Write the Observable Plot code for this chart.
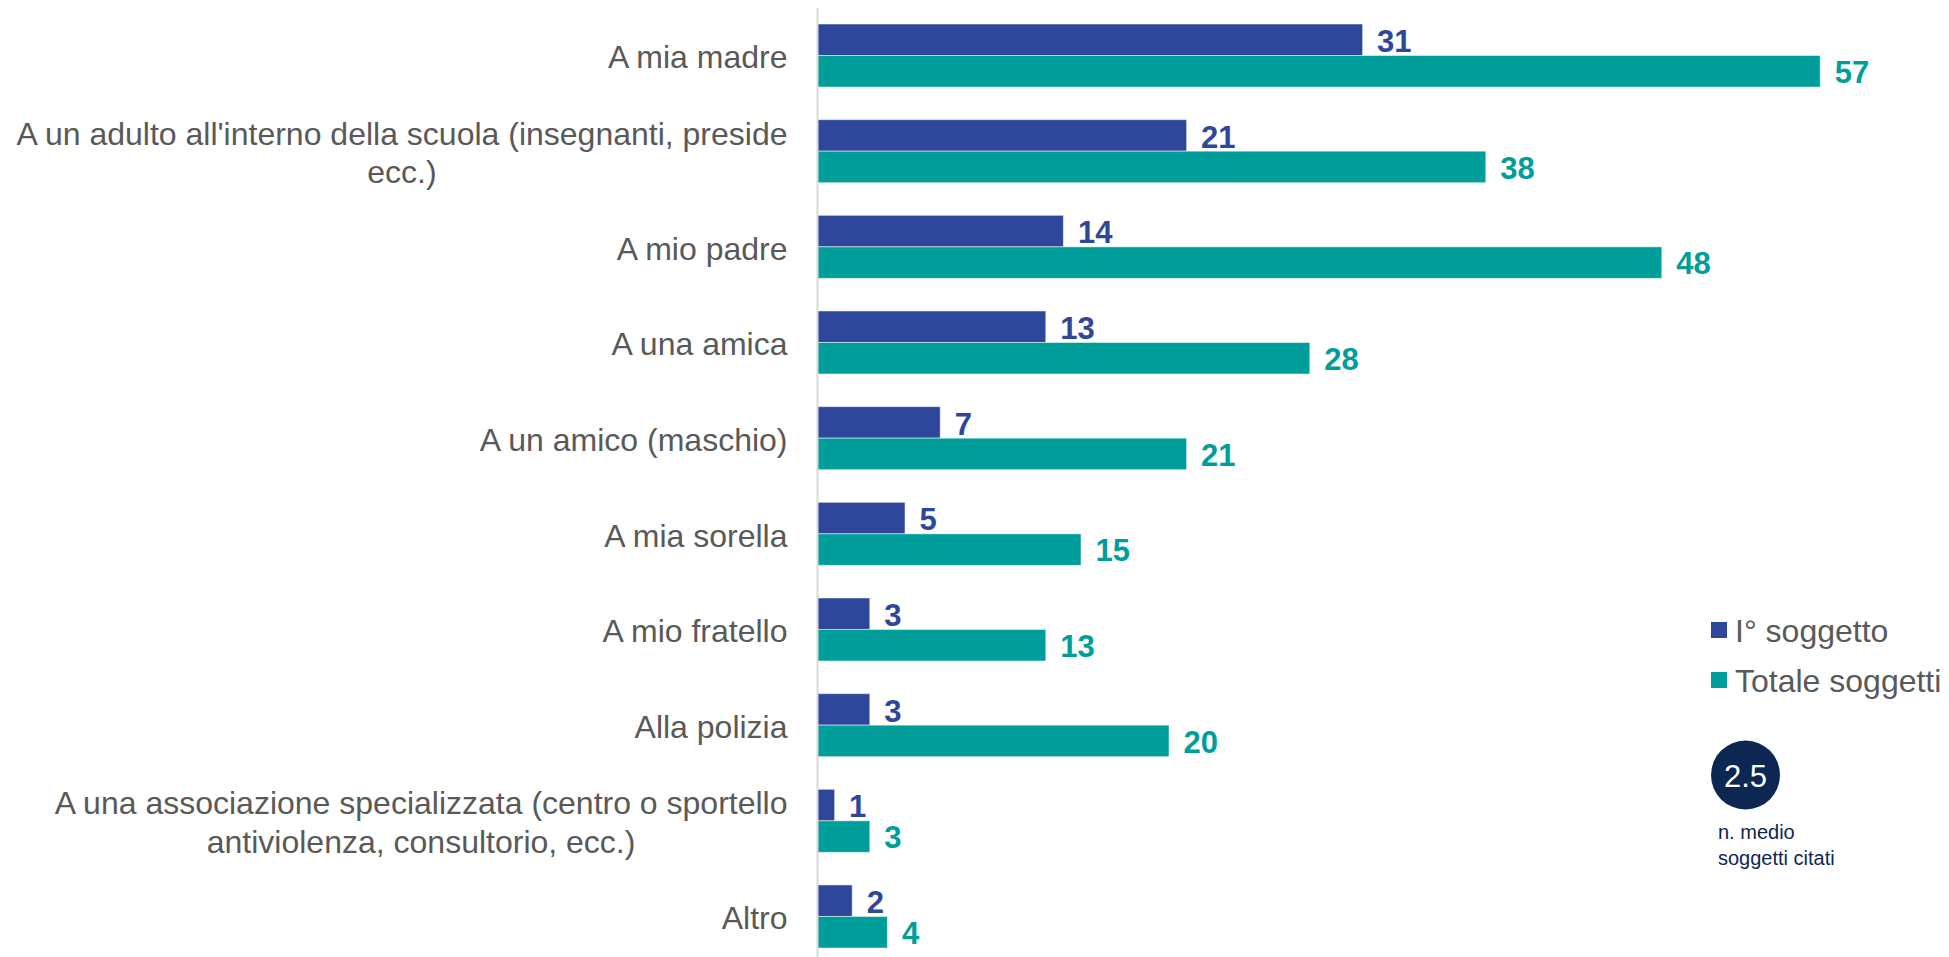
<!DOCTYPE html>
<html>
<head>
<meta charset="utf-8">
<script src="https://cdn.jsdelivr.net/npm/d3@7"></script>
<script src="https://cdn.jsdelivr.net/npm/@observablehq/plot@0.6"></script>
<style>
  html, body { margin: 0; padding: 0; background: #fff; }
  #wrap { position: relative; width: 1949px; height: 957px; overflow: hidden; }
  #overlay { position: absolute; left: 0; top: 0; pointer-events: none; }
</style>
</head>
<body>
<div id="wrap"></div>
<script>
const categories = [
  "A mia madre",
  "A un adulto all'interno della scuola (insegnanti, preside\necc.)",
  "A mio padre",
  "A una amica",
  "A un amico (maschio)",
  "A mia sorella",
  "A mio fratello",
  "Alla polizia",
  "A una associazione specializzata (centro o sportello\nantiviolenza, consultorio, ecc.)",
  "Altro"
];
const primoSoggetto = [31, 21, 14, 13, 7, 5, 3, 3, 1, 2];
const totaleSoggetti = [57, 38, 48, 28, 21, 15, 13, 20, 3, 4];
const seriesNames = ["I° soggetto", "Totale soggetti"];
const mediaSoggetti = "2.5";
const mediaLabel = ["n. medio", "soggetti citati"];

const BLUE = "#2F479B";
const TEAL = "#009E9B";
const NAVY = "#0C2752";
const GREY = "#595959";

const primo = categories.map((c, i) => ({category: c, value: primoSoggetto[i]}));
const totale = categories.map((c, i) => ({category: c, value: totaleSoggetti[i]}));

const W = 1949, H = 957;
const half = 31.5;

const chart = Plot.plot({
  width: W,
  height: H,
  marginLeft: 817,
  marginRight: 76,
  marginTop: 8,
  marginBottom: 0,
  style: {fontFamily: "'Liberation Sans', Arial, sans-serif", fontSize: "32px", color: GREY, background: "#fff"},
  x: {domain: [0, 60], axis: null},
  y: {
    domain: categories,
    paddingInner: 0.341,
    paddingOuter: 0.1307,
    align: 0.64,
    round: false,
    label: null
  },
  marks: [
    Plot.axisY({tickSize: 0, tickPadding: 30, lineHeight: 1.2, fill: GREY, fontSize: 32, label: null}),
    Plot.barX(primo, {x: "value", y: "category", fill: BLUE, insetBottom: half, stroke: "#ffffff", strokeWidth: 1, strokeOpacity: 0.5}),
    Plot.barX(totale, {x: "value", y: "category", fill: TEAL, insetTop: half, stroke: "#ffffff", strokeWidth: 1, strokeOpacity: 0.5}),
    Plot.ruleX([0], {stroke: "#d9d9d9", strokeWidth: 2}),
    Plot.text(primo, {x: "value", y: "category", text: d => String(d.value), textAnchor: "start", dx: 14, dy: -14, fill: BLUE, fontWeight: "bold", fontSize: 31}),
    Plot.text(totale, {x: "value", y: "category", text: d => String(d.value), textAnchor: "start", dx: 14, dy: 17, fill: TEAL, fontWeight: "bold", fontSize: 31})
  ]
});

const wrap = document.getElementById("wrap");
wrap.appendChild(chart);

// center the lines of multi-line category labels within their right-aligned block
d3.select(chart).selectAll("text").each(function() {
  const tspans = this.querySelectorAll("tspan");
  if (tspans.length > 1) {
    const w = this.getBBox().width;
    this.setAttribute("text-anchor", "middle");
    tspans.forEach(t => t.setAttribute("x", -w / 2));
  }
});

// legend + average badge overlay
const ov = d3.select(wrap).append("svg")
  .attr("id", "overlay")
  .attr("width", W).attr("height", H)
  .style("font-family", "'Liberation Sans', Arial, sans-serif");

const legendItems = [
  {name: seriesNames[0], color: BLUE, y: 642},
  {name: seriesNames[1], color: TEAL, y: 692}
];
legendItems.forEach(it => {
  ov.append("rect").attr("x", 1711).attr("y", it.y - 20).attr("width", 16).attr("height", 16).attr("fill", it.color);
  ov.append("text").attr("x", 1735).attr("y", it.y).attr("font-size", 32).attr("fill", GREY).text(it.name);
});
ov.append("circle").attr("cx", 1745.5).attr("cy", 775).attr("r", 34.5).attr("fill", NAVY);
ov.append("text").attr("x", 1745.5).attr("y", 787).attr("text-anchor", "middle").attr("font-size", 31).attr("fill", "#fff").text(mediaSoggetti);
mediaLabel.forEach((t, i) => {
  ov.append("text").attr("x", 1718).attr("y", 839 + i * 26).attr("font-size", 20).attr("fill", NAVY).text(t);
});
</script>
</body>
</html>
